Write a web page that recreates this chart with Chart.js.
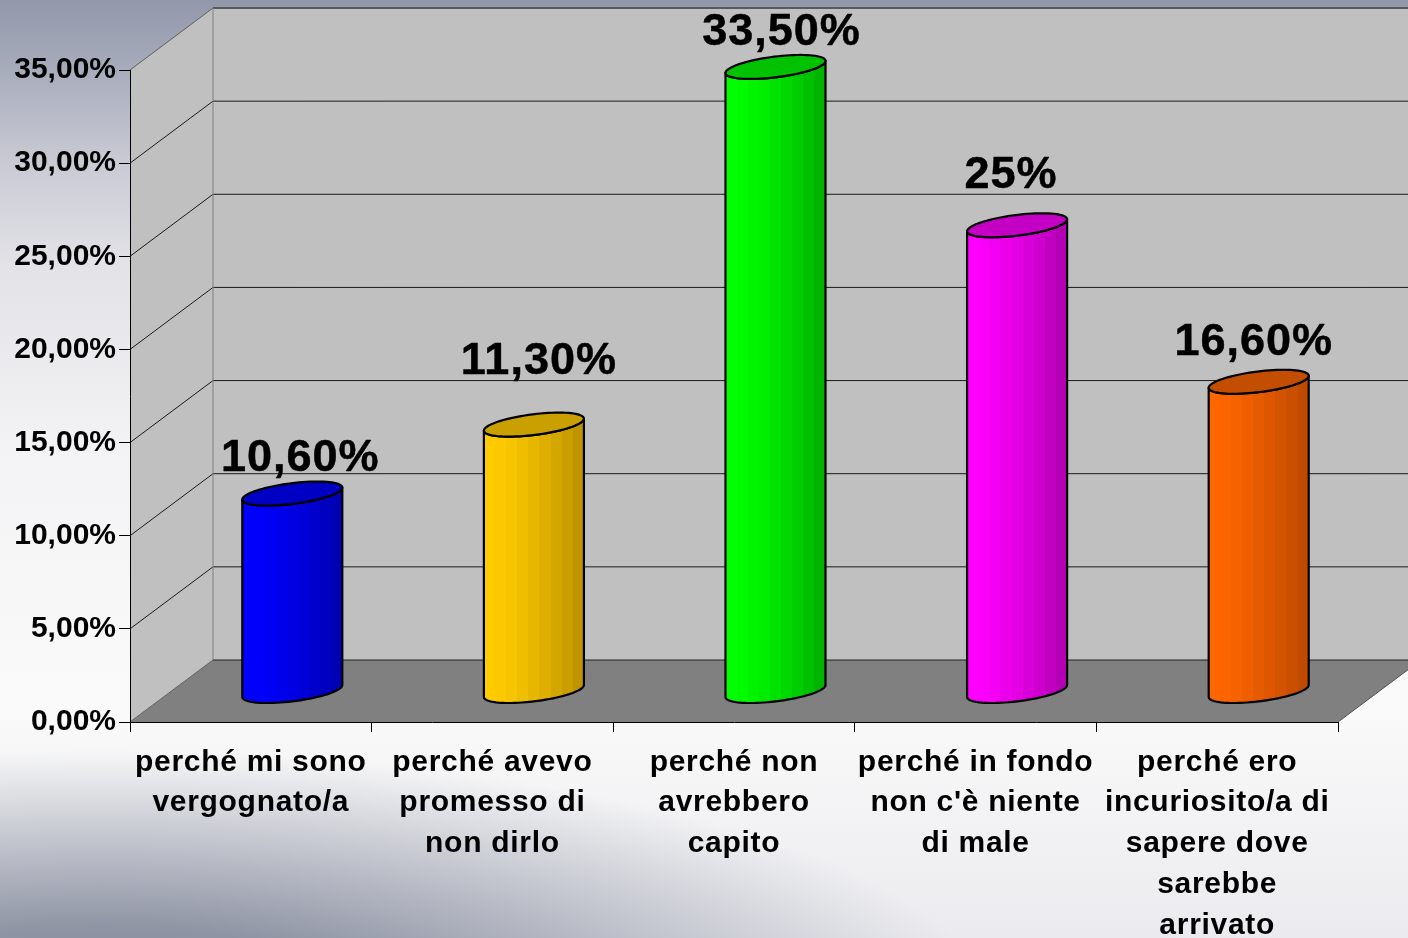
<!DOCTYPE html>
<html>
<head>
<meta charset="utf-8">
<script src="https://cdn.jsdelivr.net/npm/chart.js@4.4.1/dist/chart.umd.min.js"></script>
<style>
  html, body { margin: 0; padding: 0; overflow: hidden; background: #fff; }
  #wrap { width: 1408px; height: 938px; }
</style>
</head>
<body>
<div id="wrap"><canvas id="chart"></canvas></div>
<script>
/* ===== DATA ===== */
const categories = [
  ["perché mi sono", "vergognato/a"],
  ["perché avevo", "promesso di", "non dirlo"],
  ["perché non", "avrebbero", "capito"],
  ["perché in fondo", "non c'è niente", "di male"],
  ["perché ero", "incuriosito/a di", "sapere dove", "sarebbe", "arrivato"]
];
const values = [10.6, 14.3, 33.5, 25, 16.6];
const valueLabels = ["10,60%", "11,30%", "33,50%", "25%", "16,60%"];
const yMin = 0, yMax = 35, yStep = 5;

/* ===== STYLE ===== */
const barColors = [
  { light: "#0000ff", dark: "#0000b4", top: "#0000c4" },
  { light: "#ffcc00", dark: "#bf9400", top: "#c9a000" },
  { light: "#00ff00", dark: "#00b400", top: "#00c200" },
  { light: "#ff00ff", dark: "#b400b4", top: "#c400c4" },
  { light: "#ff6600", dark: "#bf4a00", top: "#c44e00" }
];
// where each value label sits relative to the top of its cylinder (px)
const labelNudge = [[8, -23], [5, -51], [6, -22], [-6, -37], [-5, -27]];
const DX = 83, DY = 62;       // depth of the 3D box
const FONT = '"Liberation Sans", Arial, sans-serif';

function hexRgb(h) {
  return [1, 3, 5].map(i => parseInt(h.substr(i, 2), 16));
}
function mix(a, b, f) {
  const A = hexRgb(a), B = hexRgb(b);
  return `rgb(${A.map((v, i) => Math.round(v + (B[i] - v) * f)).join(",")})`;
}
function poly(ctx, pts) {
  ctx.beginPath();
  pts.forEach((p, i) => i ? ctx.lineTo(p[0], p[1]) : ctx.moveTo(p[0], p[1]));
  ctx.closePath();
}
function line(ctx, pts, color, w) {
  ctx.beginPath();
  pts.forEach((p, i) => i ? ctx.lineTo(p[0], p[1]) : ctx.moveTo(p[0], p[1]));
  ctx.strokeStyle = color;
  ctx.lineWidth = w || 1;
  ctx.stroke();
}

/* ===== BACKGROUND + WALLS ===== */
const boxPlugin = {
  id: "box",
  beforeDraw(chart) {
    const ctx = chart.ctx, W = chart.width, H = chart.height;
    ctx.save();
    const g = ctx.createLinearGradient(0, 0, 0, H);
    g.addColorStop(0, "#9298aa");
    g.addColorStop(0.07, "#a6abbb");
    g.addColorStop(0.17, "#c8c9d3");
    g.addColorStop(0.28, "#e2e2e7");
    g.addColorStop(0.48, "#f3f3f5");
    g.addColorStop(0.75, "#fafafa");
    g.addColorStop(0.88, "#f2f2f4");
    g.addColorStop(1, "#ebebef");
    ctx.fillStyle = g;
    ctx.fillRect(0, 0, W, H);

    // darker shade in the bottom left corner
    ctx.save();
    ctx.translate(100, 1020);
    ctx.scale(2.0, 0.6);
    const r = ctx.createRadialGradient(0, 0, 0, 0, 0, 450);
    r.addColorStop(0, "rgba(122,129,148,1)");
    r.addColorStop(0.35, "rgba(128,134,152,0.85)");
    r.addColorStop(1, "rgba(140,146,162,0)");
    ctx.fillStyle = r;
    ctx.fillRect(-600, -800, 1200, 1600);
    ctx.restore();

    const a = chart.chartArea, ys = chart.scales.y;
    const L = a.left, R = a.right, T = a.top, B = a.bottom;
    ctx.fillStyle = "#c0c0c0";
    poly(ctx, [[L, T], [L + DX, T - DY], [L + DX, B - DY], [L, B]]);
    ctx.fill();
    poly(ctx, [[L + DX, T - DY], [R + DX, T - DY], [R + DX, B - DY], [L + DX, B - DY]]);
    ctx.fill();
    ctx.fillStyle = "#808080";
    poly(ctx, [[L, B], [R, B], [R + DX, B - DY], [L + DX, B - DY]]);
    ctx.fill();

    ys.ticks.forEach(t => {
      const py = ys.getPixelForValue(t.value);
      if (t.value === yMin) {
        line(ctx, [[L, py], [L + DX, py - DY]], "#606060");
        line(ctx, [[L + DX, py - DY], [R + DX, py - DY]], "#202020");
      } else if (t.value === yMax) {
        line(ctx, [[L, py], [L + DX, py - DY]], "#606060");
        line(ctx, [[L + DX, py - DY], [R + DX, py - DY]], "#5a5a5a", 2);
      } else {
        line(ctx, [[L, py], [L + DX, py - DY], [R + DX, py - DY]], "#1a1a1a");
      }
    });
    line(ctx, [[L + DX, T - DY], [L + DX, B - DY]], "#808080");
    line(ctx, [[R, B], [R + DX, B - DY]], "#505050");
    ctx.restore();

    // wider letter spacing for the category labels
    const xs = chart.scales.x;
    if (!xs._spaced) {
      const orig = xs.drawLabels;
      xs.drawLabels = function (area) {
        this.ctx.save();
        this.ctx.letterSpacing = "0.7px";
        orig.call(this, area);
        this.ctx.restore();
      };
      xs._spaced = true;
    }
  },

  /* ===== CYLINDERS ===== */
  afterDatasetsDraw(chart) {
    const ctx = chart.ctx, ys = chart.scales.y;
    const meta = chart.getDatasetMeta(0);
    meta.data.forEach((el, i) => {
      const col = barColors[i];
      const hw = el.width / 2;
      const cx = el.x + DX / 2;
      const yTop = el.y - DY / 2;
      const yBot = ys.getPixelForValue(yMin) - DY / 2;
      const Rr = hw * 0.866, Aa = hw * 0.5, Bb = 12;
      const pt = (cy, t) => [cx + Rr * Math.cos(t) + Aa * Math.sin(t), cy - Bb * Math.sin(t)];
      const t0 = Math.atan2(Aa, Rr);
      const N = 40;

      ctx.save();
      // body
      ctx.beginPath();
      for (let k = 0; k <= N; k++) {
        const p = pt(yTop, t0 + Math.PI + Math.PI * k / N);
        k ? ctx.lineTo(p[0], p[1]) : ctx.moveTo(p[0], p[1]);
      }
      for (let k = N; k >= 0; k--) {
        const p = pt(yBot, t0 + Math.PI + Math.PI * k / N);
        ctx.lineTo(p[0], p[1]);
      }
      ctx.closePath();
      const g = ctx.createLinearGradient(cx - hw, 0, cx + hw, 0);
      const bands = 9;
      for (let b = 0; b < bands; b++) {
        const c = mix(col.light, col.dark, Math.pow(b / (bands - 1), 1.4));
        g.addColorStop(b / bands, c);
        g.addColorStop((b + 1) / bands, c);
      }
      ctx.fillStyle = g;
      ctx.fill();
      ctx.lineWidth = 2.2;
      ctx.strokeStyle = "#000";
      ctx.lineJoin = "round";
      ctx.stroke();

      // top
      ctx.beginPath();
      for (let k = 0; k <= 2 * N; k++) {
        const p = pt(yTop, Math.PI * k / N);
        k ? ctx.lineTo(p[0], p[1]) : ctx.moveTo(p[0], p[1]);
      }
      ctx.closePath();
      ctx.fillStyle = col.top;
      ctx.fill();
      ctx.stroke();

      // value label
      ctx.fillStyle = "#000";
      ctx.strokeStyle = "#000";
      ctx.lineWidth = 0.5;
      ctx.letterSpacing = "1px";
      ctx.font = "bold 45px " + FONT;
      ctx.textAlign = "center";
      ctx.textBaseline = "alphabetic";
      const lx = cx + labelNudge[i][0], ly = yTop + labelNudge[i][1];
      ctx.fillText(valueLabels[i], lx, ly);
      ctx.strokeText(valueLabels[i], lx, ly);
      ctx.restore();
    });
  }
};

/* ===== CHART ===== */
new Chart(document.getElementById("chart"), {
  type: "bar",
  data: {
    labels: categories,
    datasets: [{
      data: values,
      backgroundColor: "rgba(0,0,0,0)",
      borderWidth: 0,
      categoryPercentage: 1,
      barPercentage: 0.414
    }]
  },
  options: {
    responsive: true,
    maintainAspectRatio: false,
    animation: false,
    layout: { padding: { top: 70, right: 70, left: 0, bottom: 0 } },
    plugins: { legend: { display: false }, tooltip: { enabled: false } },
    scales: {
      y: {
        min: yMin,
        max: yMax,
        ticks: {
          stepSize: yStep,
          color: "#000",
          padding: 3,
          font: { family: FONT, size: 30, weight: "bold" },
          callback: v => v.toFixed(2).replace(".", ",") + "%"
        },
        grid: { drawOnChartArea: false, color: "#000", tickLength: 11 },
        border: { color: "#000" },
        afterFit: s => { s.width = 130; }
      },
      x: {
        ticks: {
          color: "#000",
          padding: 10,
          maxRotation: 0,
          autoSkip: false,
          font: { family: FONT, size: 30, weight: "bold", lineHeight: 1.36 }
        },
        grid: { drawOnChartArea: false, color: "#000", tickLength: 10 },
        border: { color: "#000" },
        afterFit: s => { s.width; s.height = 216; }
      }
    }
  },
  plugins: [boxPlugin]
});
</script>
</body>
</html>
